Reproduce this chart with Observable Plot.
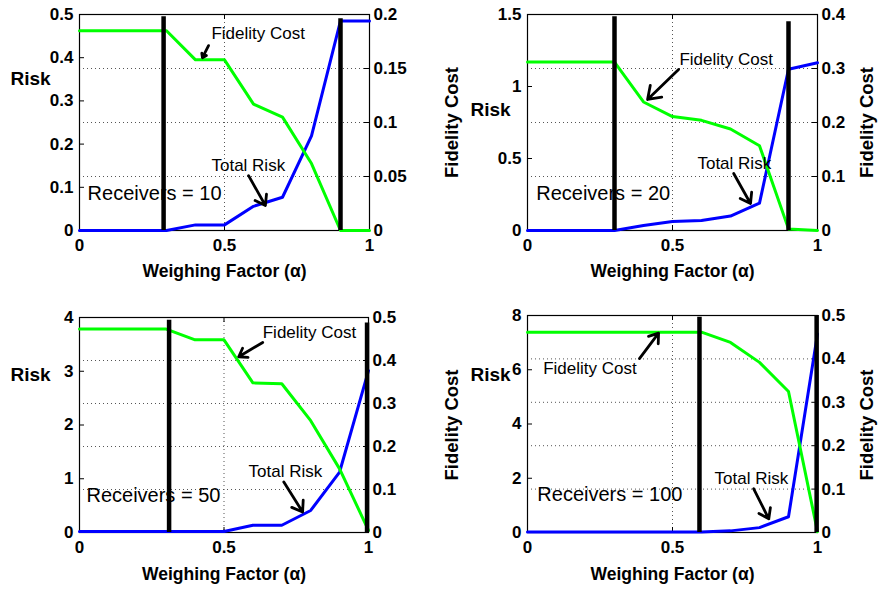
<!DOCTYPE html>
<html><head><meta charset="utf-8">
<script src="https://cdn.jsdelivr.net/npm/d3@7"></script>
<script src="https://cdn.jsdelivr.net/npm/@observablehq/plot@0.6"></script>
<style>
body{margin:0;background:#fff;}
#root{position:relative;width:879px;height:591px;overflow:hidden;background:#fff;}
.panel{position:absolute;}
.panel svg{position:absolute;left:0;top:0;}
</style></head><body><div id="root"></div>
<script>
// ---- data ----
const alpha = [0, 0.1, 0.2, 0.3, 0.4, 0.5, 0.6, 0.7, 0.8, 0.9, 1];
const xTicks = [0, 0.5, 1];
const receivers = [10, 20, 50, 100];

const risk10 = [0, 0, 0, 0, 0.013, 0.013, 0.056, 0.077, 0.219, 0.485, 0.485];
const fid10  = [0.185, 0.185, 0.185, 0.185, 0.158, 0.158, 0.117, 0.105, 0.062, 0, 0];
const risk20 = [0, 0, 0, 0, 0.035, 0.062, 0.069, 0.10, 0.19, 1.12, 1.165];
const fid20  = [0.312, 0.312, 0.312, 0.312, 0.238, 0.211, 0.204, 0.188, 0.157, 0.003, 0];
const risk50 = [0.02, 0.02, 0.02, 0.02, 0.02, 0.02, 0.135, 0.135, 0.41, 1.125, 3.01];
const fid50  = [0.473, 0.473, 0.473, 0.473, 0.448, 0.448, 0.348, 0.346, 0.26, 0.148, 0.005];
const risk100 = [0.02, 0.02, 0.02, 0.02, 0.02, 0.02, 0.02, 0.06, 0.18, 0.58, 7.32];
const fid100  = [0.4615, 0.4615, 0.4615, 0.4615, 0.4615, 0.4615, 0.4615, 0.438, 0.392, 0.325, 0.002];

const riskTicks10 = [0, 0.1, 0.2, 0.3, 0.4, 0.5];
const fidTicks10 = [0, 0.05, 0.1, 0.15, 0.2];
const riskTicks20 = [0, 0.5, 1, 1.5];
const fidTicks20 = [0, 0.1, 0.2, 0.3, 0.4];
const riskTicks50 = [0, 1, 2, 3, 4];
const fidTicks50 = [0, 0.1, 0.2, 0.3, 0.4, 0.5];
const riskTicks100 = [0, 2, 4, 6, 8];
const fidTicks100 = [0, 0.1, 0.2, 0.3, 0.4, 0.5];

// vertical threshold bars (alpha position, top in Risk units)
const thr10 = [0.29, 0.9],   thrTop10 = [0.495, 0.49];
const thr20 = [0.3, 0.9],    thrTop20 = [1.485, 1.45];
const thr50 = [0.31, 0.995], thrTop50 = [3.95, 3.9];
const thr100 = [0.593, 0.997], thrTop100 = [7.94, 8];

// ---- layout ----
const panels = [
  {risk: risk10, fid: fid10, riskTicks: riskTicks10, fidTicks: fidTicks10, thr: thr10, thrTop: thrTop10, n: receivers[0],
   L: {left:0, top:0, width:440, height:295, mL:79, mR:71, mT:14, mB:65, riskDx:-69, riskDy:70, side:false, xlabDy:46,
       fc:[0.455,0.456], fcArrow:[0.445,0.428,0.424,0.40], tr:[0.455,0.150], trArrow:[0.583,0.127,0.641,0.058], rec:[0.028,0.086]}},
  {risk: risk20, fid: fid20, riskTicks: riskTicks20, fidTicks: fidTicks20, thr: thr20, thrTop: thrTop20, n: receivers[1],
   L: {left:440, top:0, width:439, height:295, mL:87, mR:62, mT:14, mB:65, riskDx:-57, riskDy:101, side:true, sideL:-75, sideR:50, sideDy:0, xlabDy:46,
       fc:[0.524,1.1875], fcArrow:[0.521,1.118,0.414,0.91], tr:[0.586,0.465], trArrow:[0.711,0.396,0.769,0.1875], rec:[0.030,0.257]}},
  {risk: risk50, fid: fid50, riskTicks: riskTicks50, fidTicks: fidTicks50, thr: thr50, thrTop: thrTop50, n: receivers[2],
   L: {left:0, top:295, width:440, height:296, mL:79, mR:72, mT:22, mB:59, riskDx:-69, riskDy:63, side:false, xlabDy:47,
       fc:[0.634,3.72], fcArrow:[0.634,3.536,0.551,3.27], tr:[0.585,1.137], trArrow:[0.707,0.939,0.772,0.382], rec:[0.024,0.692]}},
  {risk: risk100, fid: fid100, riskTicks: riskTicks100, fidTicks: fidTicks100, thr: thr100, thrTop: thrTop100, n: receivers[3],
   L: {left:440, top:295, width:439, height:296, mL:87, mR:62, mT:20, mB:59, riskDx:-57, riskDy:65, side:true, sideL:-75, sideR:50, sideDy:1, xlabDy:47,
       fc:[0.054,6.05], fcArrow:[0.386,6.41,0.452,7.35], tr:[0.645,1.99], trArrow:[0.780,1.61,0.832,0.506], rec:[0.034,1.39]}}
];

const style = {fontFamily: "'Liberation Sans', Arial, Helvetica, sans-serif", fontSize: "17px", fontWeight: "bold",
  background: "transparent", overflow: "visible", color: "black"};
const fmt = d => String(d);
const root = document.getElementById("root");

function build(p) {
  const L = p.L;
  const pw = L.width - L.mL - L.mR, ph = L.height - L.mT - L.mB;
  const base = {width: L.width, height: L.height, marginLeft: L.mL, marginRight: L.mR, marginTop: L.mT, marginBottom: L.mB, style};
  const riskDomain = [0, p.riskTicks[p.riskTicks.length - 1]];
  const fidDomain = [0, p.fidTicks[p.fidTicks.length - 1]];
  const riskRows = alpha.map((a, i) => ({a, v: p.risk[i]}));
  const fidRows = alpha.map((a, i) => ({a, v: p.fid[i]}));
  const thrRows = p.thr.map((t, i) => ({x: t, y1: 0, y2: p.thrTop[i]}));
  const div = document.createElement("div");
  div.className = "panel";
  div.style.left = L.left + "px"; div.style.top = L.top + "px";
  div.style.width = L.width + "px"; div.style.height = L.height + "px";

  // Layer A: fidelity scale — frame, grid, right axis
  const A = Plot.plot({...base, x: {domain: [0, 1], axis: null}, y: {domain: fidDomain},
    marks: [
      Plot.ruleY(p.fidTicks.slice(1, -1), {y: d => d, stroke: "#555", strokeDasharray: "1,3", strokeWidth: 1}),
      Plot.ruleX([0.5], {x: d => d, stroke: "#555", strokeDasharray: "1,3", strokeWidth: 1}),
      Plot.frame({stroke: "black", strokeWidth: 1.2}),
      Plot.tickY(p.fidTicks, {y: d => d, insetLeft: pw - 5, stroke: "black"}),
      Plot.axisY(p.fidTicks, {anchor: "right", tickSize: 0, tickPadding: 4, label: null, tickFormat: fmt})
    ]});
  // Layer B: risk scale — blue line, left axis, x axis
  const B = Plot.plot({...base, x: {domain: [0, 1]}, y: {domain: riskDomain},
    marks: [
      Plot.tickY(p.riskTicks, {y: d => d, insetRight: pw - 5, stroke: "black"}),
      Plot.tickX(xTicks, {x: d => d, insetTop: ph - 5, stroke: "black"}),
      Plot.tickX(xTicks, {x: d => d, insetBottom: ph - 5, stroke: "black"}),
      Plot.line(riskRows, {x: "a", y: "v", stroke: "#0000ff", strokeWidth: 3}),
      Plot.axisY(p.riskTicks, {anchor: "left", tickSize: 0, tickPadding: 6, label: null, tickFormat: fmt}),
      Plot.axisX(xTicks, {anchor: "bottom", tickSize: 0, tickPadding: 8, label: null, tickFormat: fmt})
    ]});
  // Layer C: fidelity scale — green line
  const C = Plot.plot({...base, x: {domain: [0, 1], axis: null}, y: {domain: fidDomain, axis: null},
    marks: [Plot.line(fidRows, {x: "a", y: "v", stroke: "#00ff00", strokeWidth: 3})]});
  // Layer D: risk scale — thresholds, annotations, labels
  const marksD = [
    Plot.ruleX(thrRows, {x: "x", y1: "y1", y2: "y2", stroke: "black", strokeWidth: 4.5}),
    Plot.text(["Fidelity Cost"], {text: d => d, x: () => L.fc[0], y: () => L.fc[1], textAnchor: "start", lineAnchor: "middle", fontWeight: "normal", fontSize: 17}),
    Plot.text(["Total Risk"], {text: d => d, x: () => L.tr[0], y: () => L.tr[1], textAnchor: "start", lineAnchor: "middle", fontWeight: "normal", fontSize: 17}),
    Plot.text([`Receivers = ${p.n}`], {text: d => d, x: () => L.rec[0], y: () => L.rec[1], textAnchor: "start", lineAnchor: "middle", fontWeight: "normal", fontSize: 20}),
    Plot.arrow([L.fcArrow, L.trArrow], {x1: d => d[0], y1: d => d[1], x2: d => d[2], y2: d => d[3], stroke: "black", strokeWidth: 2.8, headLength: 9, headAngle: 70}),
    Plot.text(["Risk"], {text: d => d, frameAnchor: "top-left", dx: L.riskDx, dy: L.riskDy, textAnchor: "start", lineAnchor: "bottom", fontSize: 19, fontWeight: "bold"}),
    Plot.text(["Weighing Factor (α)"], {text: d => d, frameAnchor: "bottom", dy: L.xlabDy, textAnchor: "middle", lineAnchor: "bottom", fontSize: 17.5, fontWeight: "bold"})
  ];
  if (L.side) {
    marksD.push(Plot.text(["Fidelity Cost"], {text: d => d, frameAnchor: "left", dx: L.sideL, dy: L.sideDy, rotate: -90, textAnchor: "middle", lineAnchor: "middle", fontSize: 18.5, fontWeight: "bold"}));
    marksD.push(Plot.text(["Fidelity Cost"], {text: d => d, frameAnchor: "right", dx: L.sideR, dy: L.sideDy, rotate: -90, textAnchor: "middle", lineAnchor: "middle", fontSize: 18.5, fontWeight: "bold"}));
  }
  const D = Plot.plot({...base, x: {domain: [0, 1], axis: null}, y: {domain: riskDomain, axis: null}, marks: marksD});
  for (const s of [A, B, C, D]) div.appendChild(s);
  root.appendChild(div);
}
panels.forEach(build);
</script></body></html>
